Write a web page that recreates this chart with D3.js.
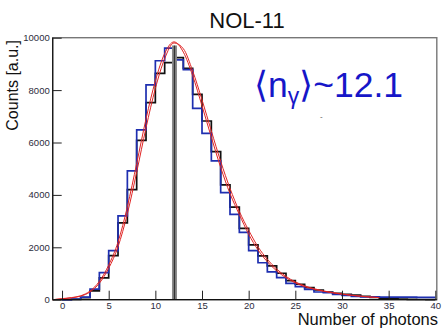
<!DOCTYPE html>
<html><head><meta charset="utf-8">
<script src="https://cdn.jsdelivr.net/npm/d3@7"></script>
<style>
html,body{margin:0;padding:0;background:#fff;}
svg{display:block;font-family:"Liberation Sans",Arial,Helvetica,sans-serif;}
</style></head>
<body>
<svg id="chart" width="442" height="331"></svg>
<script>
// ---- data ----
const binLowEdges = d3.range(0, 40);            // bins [k, k+1)
const countsBlack = [3, 15, 80, 340, 830, 1680, 2930, 4200, 6080, 7520, 8640, 9050, 9240, 8830, 7840, 6820, 5650, 4380, 3530, 2720, 2090, 1670, 1290, 1010, 725, 590, 458, 370, 294, 244, 206, 180, 130, 90, 60, 40, 25, 15, 8, 4];
const countsBlue  = [3, 20, 100, 400, 1030, 1870, 3200, 4920, 6480, 8200, 9120, 9600, 9150, 8780, 7300, 6350, 5300, 4085, 3260, 2570, 1870, 1410, 1060, 840, 626, 496, 397, 294, 267, 206, 168, 130, 110, 105, 100, 100, 95, 95, 90, 90];
const fitX = d3.range(-1, 35);
const fitA = [0, 40, 80, 150, 330, 700, 1320, 2200, 3550, 5200, 6900, 8350, 9400, 9840, 9450, 8550, 7400, 6200, 5050, 4050, 3250, 2500, 1900, 1450, 1100, 840, 640, 500, 400, 320, 260, 210, 165, 130, 100, 78];
const fitB = [0, 30, 70, 135, 295, 630, 1200, 2020, 3280, 4870, 6560, 8060, 9200, 9800, 9580, 8730, 7630, 6440, 5280, 4250, 3370, 2650, 2020, 1540, 1170, 890, 680, 530, 420, 336, 272, 220, 174, 137, 106, 82];
const meanPhotons = 12.05, meanMarkerTop = 9700;
const xMajorTicks = [0, 5, 10, 15, 20, 25, 30, 35, 40];
const yMajorTicks = [0, 2000, 4000, 6000, 8000, 10000];
const titleText = "NOL-11";
const xTitle = "Number of photons";
const yTitle = "Counts [a.u.]";

// ---- layout ----
const svg = d3.select("#chart");
const L = 52.7, R = 435.3, T = 37.7, B = 299.7;
const x = d3.scaleLinear().domain([-1, 40]).range([L, R]);
const y = d3.scaleLinear().domain([0, 10000]).range([B, T]);

// frame
svg.append("rect").attr("x", L).attr("y", T).attr("width", R - L + 1.5).attr("height", B - T)
  .attr("fill", "none").attr("stroke", "#777").attr("stroke-width", 1.4);

// histograms
function stepPts(vals){
  const pts = binLowEdges.map((e,i)=>[e, vals[i]]);
  pts.push([binLowEdges[binLowEdges.length-1]+1, vals[vals.length-1]]);
  return pts;
}
const stepLine = d3.line().x(d=>x(d[0])).y(d=>y(d[1])).curve(d3.curveStepAfter);
svg.append("path").attr("d", stepLine(stepPts(countsBlack))).attr("fill","none")
  .attr("stroke","#111").attr("stroke-width",1.7);
svg.append("path").attr("d", stepLine(stepPts(countsBlue))).attr("fill","none")
  .attr("stroke","#1e2fb0").attr("stroke-width",1.7);

// fits
const fitLine = d3.line().x((d,i)=>x(fitX[i])).y(d=>y(d)).curve(d3.curveMonotoneX);
[fitA, fitB].forEach(f=>{
  svg.append("path").attr("d", fitLine(f)).attr("fill","none")
    .attr("stroke","#e02424").attr("stroke-width",1);
});

// mean marker
svg.append("line").attr("x1", x(meanPhotons)).attr("x2", x(meanPhotons))
  .attr("y1", y(0)).attr("y2", y(meanMarkerTop)).attr("stroke","#8a8a8a").attr("stroke-width",5);
svg.append("line").attr("x1", x(meanPhotons)).attr("x2", x(meanPhotons))
  .attr("y1", y(0)).attr("y2", y(meanMarkerTop)).attr("stroke","#333").attr("stroke-width",1.3);

// axes
const gx = svg.append("g").attr("transform", `translate(0,${B})`);
gx.call(d3.axisBottom(x).tickValues(d3.range(0, 41)).tickSize(-5).tickFormat(""));
gx.call(d3.axisBottom(x).tickValues(xMajorTicks).tickSize(-9).tickPadding(3).tickFormat(d3.format("d")));
const gy = svg.append("g").attr("transform", `translate(${L},0)`);
gy.call(d3.axisLeft(y).tickValues(d3.range(0, 10001, 500)).tickSize(-5).tickFormat(""));
gy.call(d3.axisLeft(y).tickValues(yMajorTicks).tickSize(-9).tickPadding(3).tickFormat(d3.format("d")));
svg.selectAll(".domain").attr("stroke","#111").attr("stroke-width",1.2);
svg.selectAll(".tick line").attr("stroke","#222").attr("stroke-width",1);
svg.selectAll(".tick text").attr("font-size","9.5px").attr("fill","#2c2c3c")
  .attr("font-family","'Liberation Sans',Arial,sans-serif");
gx.selectAll(".domain").attr("d", `M${L},0H${R+1.5}`);
gy.selectAll(".domain").attr("d", `M0,${B}V${T}`);

// titles
svg.append("text").attr("x", 247).attr("y", 28).attr("text-anchor","middle")
  .attr("font-size","22px").attr("fill","#111").text(titleText);
svg.append("text").attr("x", 438).attr("y", 325).attr("text-anchor","end")
  .attr("font-size","16.5px").attr("fill","#111").text(xTitle);
svg.append("text").attr("transform","translate(18,40) rotate(-90)").attr("text-anchor","end")
  .attr("font-size","16px").attr("fill","#111").text(yTitle);

// annotation
const ann = svg.append("text").attr("x", 254).attr("y", 97).attr("font-size","35.5px").attr("fill","#1616c8");
ann.append("tspan").text("\u27E8n");
ann.append("tspan").attr("font-size","23px").attr("dy", 7).text("\u03B3");
ann.append("tspan").attr("dy", -7).text("\u27E9~12.1");
svg.append("text").attr("x", 320).attr("y", 119).attr("font-size","8px").attr("fill","#555").text("-");
</script>
</body></html>
